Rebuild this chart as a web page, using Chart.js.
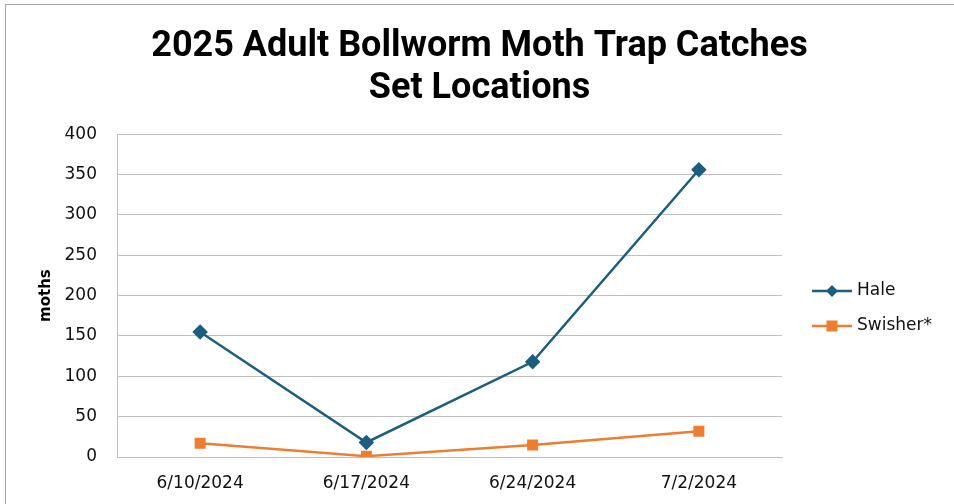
<!DOCTYPE html>
<html>
<head>
<meta charset="utf-8">
<script src="https://cdn.jsdelivr.net/npm/chart.js@4"></script>
<style>
    html, body { margin: 0; padding: 0; background: #fff; overflow: hidden; }
    #frame {
        position: absolute; left: 5px; top: 4px; width: 1000px; height: 600px;
        border-top: 1px solid #a6a6a6; border-left: 1px solid #a6a6a6;
    }
    #wrap { position: absolute; left: 0; top: 0; width: 954px; height: 504px; }
</style>
</head>
<body>
<div id="frame"></div>
<div id="wrap"><canvas id="mothChart" width="954" height="504"></canvas></div>
<script>
// Trap dates and catches
const dates = ['6/10/2024', '6/17/2024', '6/24/2024', '7/2/2024'];
const haleCatches = [155, 18, 118, 356];
const swisherCatches = [17, 1, 15, 32];
const seriesNames = ['Hale', 'Swisher*'];
const seriesColors = ['#1b5e7e', '#ed7d31'];

const textFamily = '"DejaVu Sans", Arial, sans-serif';

// Excel-style legend: short line with the marker on it
const excelLegend = {
    id: 'excelLegend',
    afterDraw(chart) {
        const ctx = chart.ctx;
        const x = chart.chartArea.right + 30;
        const rows = [291, 326];
        ctx.save();
        chart.data.datasets.forEach((ds, i) => {
            const y = rows[i];
            ctx.strokeStyle = ds.borderColor;
            ctx.lineWidth = 2.5;
            ctx.beginPath();
            ctx.moveTo(x, y);
            ctx.lineTo(x + 40, y);
            ctx.stroke();
            ctx.fillStyle = ds.backgroundColor;
            ctx.beginPath();
            if (ds.pointStyle === 'rectRot') {
                ctx.moveTo(x + 20, y - 6);
                ctx.lineTo(x + 26, y);
                ctx.lineTo(x + 20, y + 6);
                ctx.lineTo(x + 14, y);
                ctx.closePath();
            } else {
                ctx.rect(x + 14.5, y - 5.5, 11, 11);
            }
            ctx.fill();
            ctx.fillStyle = '#111';
            ctx.font = '17px ' + textFamily;
            ctx.textBaseline = 'middle';
            ctx.fillText(ds.label, x + 45, y);
        });
        ctx.restore();
    }
};

const tickFont = { family: textFamily, size: 17 };

const ctx = document.getElementById('mothChart').getContext('2d');
new Chart(ctx, {
    type: 'line',
    data: {
        labels: dates,
        datasets: [
            {
                label: seriesNames[0],
                data: haleCatches,
                borderColor: seriesColors[0],
                backgroundColor: seriesColors[0],
                borderWidth: 2.5,
                pointStyle: 'rectRot',
                pointRadius: 6,
                pointHoverRadius: 6,
                tension: 0
            },
            {
                label: seriesNames[1],
                data: swisherCatches,
                borderColor: seriesColors[1],
                backgroundColor: seriesColors[1],
                borderWidth: 2.5,
                pointStyle: 'rect',
                pointRadius: 6,
                pointHoverRadius: 6,
                tension: 0
            }
        ]
    },
    options: {
        responsive: false,
        animation: false,
        layout: { padding: { left: 5, right: 0, top: 14, bottom: 0 } },
        plugins: {
            legend: { display: false },
            tooltip: { enabled: false },
            title: {
                display: true,
                text: ['2025 Adult Bollworm Moth Trap Catches', 'Set Locations'],
                color: '#000',
                font: { family: 'Roboto, "Liberation Sans", sans-serif', size: 36, weight: 'bold', lineHeight: 1.17 },
                padding: { top: 12, bottom: 24 }
            }
        },
        scales: {
            x: {
                offset: true,
                afterFit(scale) { scale.height = 47; },
                grid: { display: false, drawTicks: false },
                border: { color: '#bfbfbf', width: 1 },
                ticks: { color: '#111', padding: 16, font: tickFont }
            },
            y: {
                min: 0,
                max: 400,
                afterFit(scale) { scale.width = 112; },
                ticks: { stepSize: 50, color: '#111', padding: 20, font: tickFont },
                grid: { color: '#bfbfbf', lineWidth: 1, drawTicks: false },
                border: { color: '#bfbfbf', width: 1 },
                title: {
                    display: true,
                    text: 'moths',
                    color: '#000',
                    padding: { top: 32, bottom: 0 },
                    font: { family: textFamily, size: 15, weight: 'bold' }
                }
            },
            // empty right axis only reserves room for the legend
            legendSpace: {
                position: 'right',
                min: 0,
                max: 400,
                afterFit(scale) { scale.width = 172; },
                grid: { display: false, drawTicks: false },
                border: { display: false },
                ticks: { display: false }
            }
        }
    },
    plugins: [excelLegend]
});
</script>
</body>
</html>
